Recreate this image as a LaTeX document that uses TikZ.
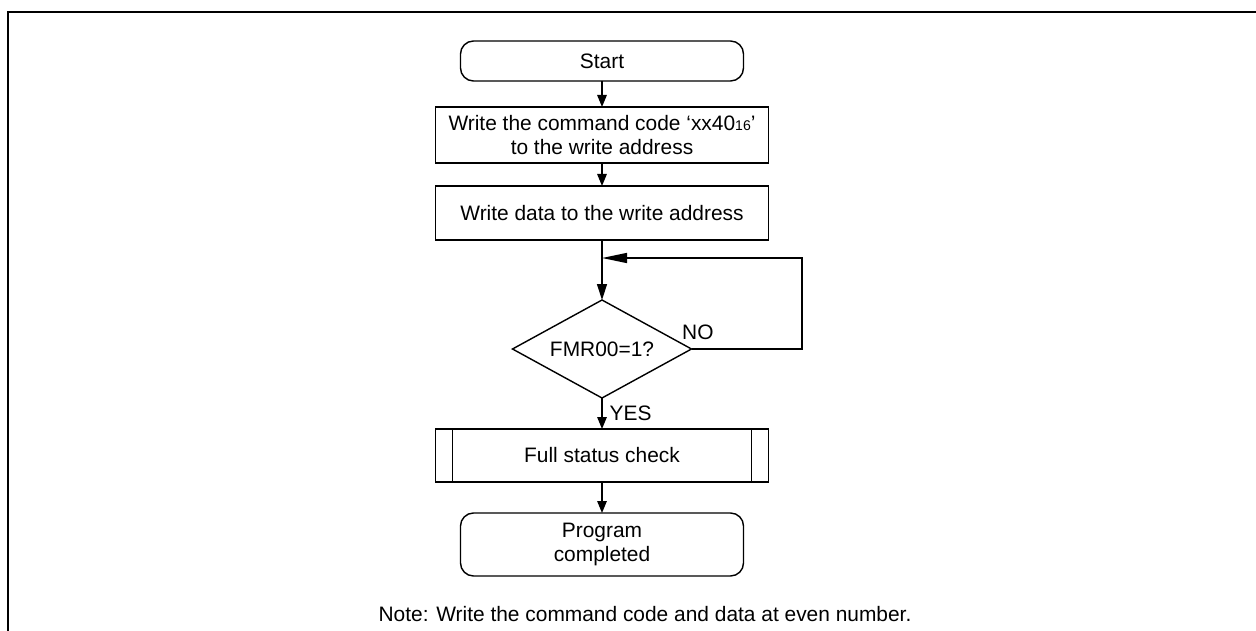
\documentclass[tikz,border=0pt]{standalone}
\usepackage{fontspec}
\setmainfont{Liberation Sans}
\usetikzlibrary{arrows.meta}
\usetikzlibrary{positioning}
\usetikzlibrary{shapes.geometric}
\tikzset{
  flownode/.style = {align=center, inner sep=0pt, outer sep=0pt, text centered,
    draw=black, line width=0.8pt, font=\fontsize{11.9}{13.2}\selectfont},
  term_n/.style = {flownode, rounded corners=0.26cm, minimum width=5.66cm},% start / end
  proc_n/.style = {flownode, minimum width=6.66cm},% process box
  dec_n/.style = {flownode, diamond, aspect=1.83, minimum width=3.58cm,
    minimum height=1.96cm},% decision
  lbl_n/.style = {inner sep=0pt, font=\fontsize{11.9}{13.2}\selectfont},% free text
}

\begin{document}
\begin{tikzpicture}[>={Triangle[length=2.4mm,width=1.9mm]}, line width=0.8pt]

\useasboundingbox (0,0) rectangle (25.12,-12.62);
% frame
\coordinate (frame_bl) at (0.16,-12.62);
\coordinate (frame_tl) at (0.16,-0.24);
\coordinate (frame_tr) at (25.12,-0.24);
\draw [line width=1.4pt] (frame_bl) -- (frame_tl) -- (frame_tr);

\node [term_n, minimum height=0.8cm] (start) at (12.04,-1.22) {Start};
\node [proc_n, minimum height=1.12cm, below=0.52cm of start] (cmd)
	{Write the command code ‘xx40{\fontsize{8}{8}\selectfont 16}’\\to the write address};
\node [proc_n, minimum height=1.08cm, below=0.46cm of cmd] (data)
	{Write data to the write address};
\node [dec_n, below=1.2cm of data] (fmr) {FMR00=1?};
\node [proc_n, minimum height=1.06cm, below=0.62cm of fmr] (fsc) {Full status check};
\node [term_n, minimum height=1.26cm, below=0.62cm of fsc] (done) {Program\\completed};

% double sides of the predefined process
\draw ([xshift=0.34cm]fsc.north west) -- ([xshift=0.34cm]fsc.south west);
\draw ([xshift=-0.34cm]fsc.north east) -- ([xshift=-0.34cm]fsc.south east);

\draw [->] (start) -- (cmd);
\draw [->] (cmd) -- (data);
\draw [->, >={Triangle[length=3.2mm,width=2mm]}] (data) -- (fmr);

% loop back while not ready
\coordinate (loop) at (16.04,-5.16);
\coordinate (join) at (data.south |- loop);
\draw [->, >={Triangle[length=5mm,width=2mm]}] (fmr.east) -| (loop) -- (join);
\node [lbl_n, anchor=base west] (no) at ([xshift=-0.2cm, yshift=0.2cm]fmr.east) {NO};

\draw [->] (fmr) -- (fsc);
\node [lbl_n, anchor=base west] (yes) at ([xshift=0.14cm, yshift=-0.44cm]fmr.south) {YES};

\draw [->] (fsc) -- (done);

\node [lbl_n, anchor=base] (note) at (12.9,-12.42)
	{Note: Write the command code and data at even number.};

\end{tikzpicture}
\end{document}
